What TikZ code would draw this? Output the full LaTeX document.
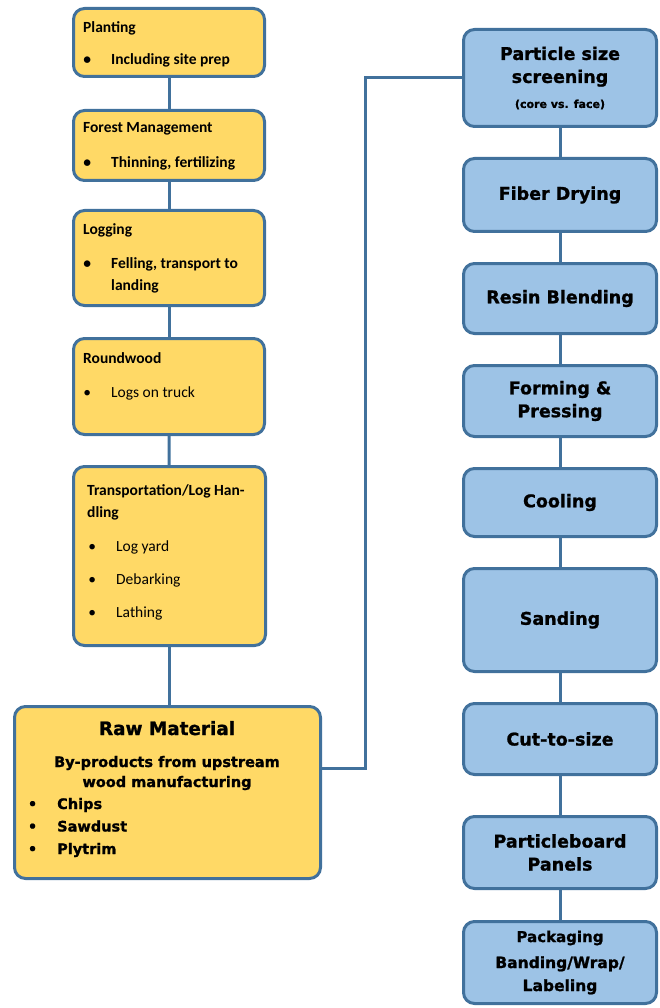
\documentclass[tikz,border=0pt]{standalone}
\usepackage{fontspec}
\setmainfont{Carlito}
\newfontfamily\heavy{DejaVu Sans}[BoldFeatures={FakeBold=1.2}]
\usetikzlibrary{positioning}

\definecolor{woodfill}{HTML}{FFD966}
\definecolor{millfill}{HTML}{9DC3E6}
\definecolor{rim}{HTML}{41719C}

\tikzset{
  stage/.style={draw=rim, line width=3pt, rounded corners=11pt, inner sep=0pt},
  woodstage/.style={stage, fill=woodfill},
  millstage/.style={stage, fill=millfill, minimum width=193pt, align=center,
    font=\heavy\bfseries\fontsize{17.5}{23}\selectfont},
  head/.style={anchor=base west, inner sep=0pt, align=left,
    font=\bfseries\fontsize{15.5}{22}\selectfont},
  entry/.style={anchor=base west, inner sep=0pt, align=left,
    font=\fontsize{15.5}{22}\selectfont},
  link/.style={draw=rim, line width=3pt}
}
\newcommand{\dotitem}{\llap{\textbullet\hspace{20pt}}}

\begin{document}
\begin{tikzpicture}[x=1pt, y=-1pt]
\useasboundingbox (0,0) rectangle (660,1008);

% forest side
\node[woodstage, minimum width=191pt, minimum height=68pt] (plant) at (169,42.5) {};
\node[head] (planthead) at (83,33) {Planting};
\node[entry, font=\bfseries\fontsize{15.5}{22}\selectfont] (plantitem) at (111,65) {\dotitem Including site prep};

\node[woodstage, minimum width=191pt, minimum height=70pt] (forest) at (169,145.5) {};
\node[head] (foresthead) at (83,133) {Forest Management};
\node[entry, font=\bfseries\fontsize{15.5}{22}\selectfont] (forestitem) at (111,168) {\dotitem Thinning, fertilizing};

\node[woodstage, minimum width=191pt, minimum height=95pt] (logging) at (169,258) {};
\node[head] (logginghead) at (83,235) {Logging};
% base of a multi-line node is its last line
\node[entry, font=\bfseries\fontsize{15.5}{22}\selectfont] (loggingitem) at (111,290) {\dotitem Felling, transport to\\landing};

\node[woodstage, minimum width=191pt, minimum height=96pt] (round) at (169,386.5) {};
\node[head] (roundhead) at (83,363) {Roundwood};
\node[entry] (rounditem) at (111,397) {\dotitem Logs on truck};

\node[woodstage, minimum width=192pt, minimum height=179pt] (transport) at (169.5,556) {};
\node[head] (transporthead) at (87,517) {Transportation/Log Han-\\dling};
\node[entry] (yard) at (116,551) {\dotitem Log yard};
\node[entry] (debark) at (116,584) {\dotitem Debarking};
\node[entry] (lathe) at (116,617) {\dotitem Lathing};

\node[woodstage, minimum width=306pt, minimum height=172pt] (raw) at (167.5,792.5) {};
\node[anchor=base, inner sep=0pt, font=\heavy\bfseries\fontsize{18.4}{22}\selectfont] (rawhead) at (167,735) {Raw Material};
\node[anchor=base, inner sep=0pt, align=center, font=\heavy\bfseries\fontsize{14.5}{20}\selectfont] (rawsub) at (167,787) {By-products from upstream\\wood manufacturing};
\node[anchor=base west, inner sep=0pt, align=left, font=\heavy\bfseries\fontsize{14.5}{22.5}\selectfont] (rawlist) at (57,854) {\dotitem Chips\\\dotitem Sawdust\\\dotitem Plytrim};

\draw[link] (plant) -- (forest);
\draw[link] (forest) -- (logging);
\draw[link] (logging) -- (round);
\draw[link] (round) -- (transport);
\draw[link] (transport.south) -- (transport.south |- raw.north);

% mill side
\node[millstage, minimum height=97pt] (screen) at (560,78) {Particle size\\screening\\[2pt]{\fontsize{11}{14}\selectfont (core vs. face)}};
\node[millstage, minimum height=73pt] (dry) at (560,195) {Fiber Drying};
\node[millstage, minimum height=70pt] (resin) at (560,298.5) {Resin Blending};
\node[millstage, minimum height=71pt] (form) at (560,401) {Forming \&\\Pressing};
\node[millstage, minimum height=68pt] (cool) at (560,502.5) {Cooling};
\node[millstage, minimum height=103pt] (sand) at (560,620) {Sanding};
\node[millstage, minimum height=71pt] (cut) at (560,739) {Cut-to-size};
\node[millstage, minimum height=72pt] (panel) at (560,852.5) {Particleboard\\Panels};
\node[millstage, minimum height=82pt] (pack) at (560,962.5) {{\fontsize{15}{20}\selectfont Packaging}\\[3pt]{\fontsize{15.5}{22}\selectfont Banding/Wrap/}\\{\fontsize{15.5}{22}\selectfont Labeling}};

\draw[link] (screen) -- (dry);
\draw[link] (dry) -- (resin);
\draw[link] (resin) -- (form);
\draw[link] (form) -- (cool);
\draw[link] (cool) -- (sand);
\draw[link] (sand) -- (cut);
\draw[link] (cut) -- (panel);
\draw[link] (panel) -- (pack);

\coordinate (bend) at (365,768);
\draw[link] (raw.east |- bend) -- (bend) |- (screen.west);

\end{tikzpicture}
\end{document}
